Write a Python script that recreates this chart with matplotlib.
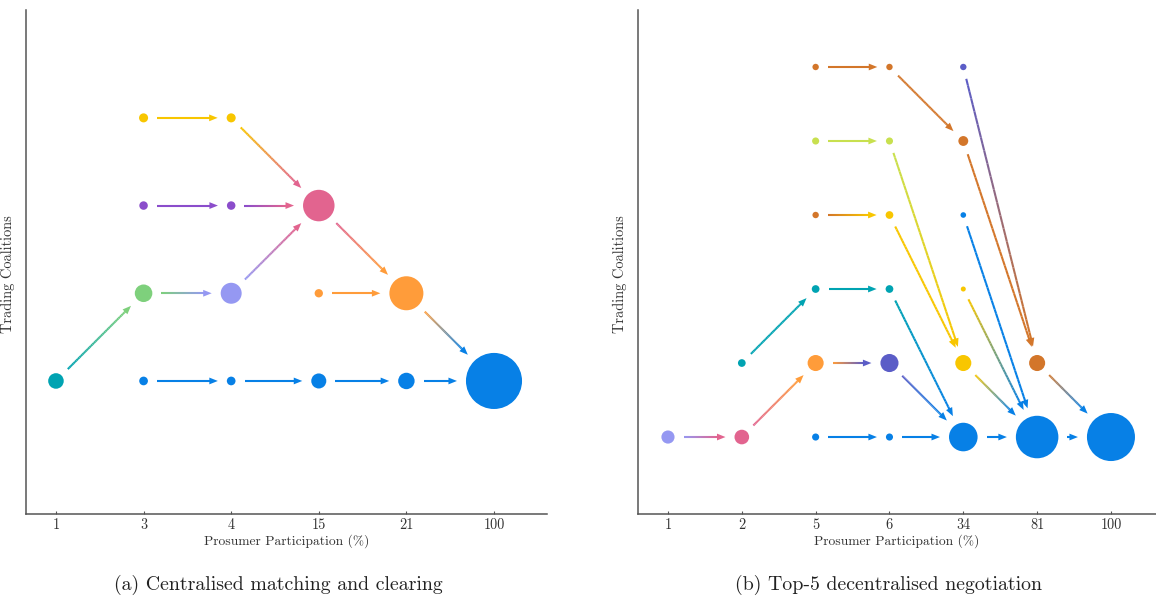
import numpy as np
import matplotlib
matplotlib.use("Agg")
import matplotlib.pyplot as plt
from matplotlib.collections import LineCollection
from matplotlib.patches import Polygon
from matplotlib.colors import to_rgb

plt.rcParams['font.family'] = ['cmr10', 'DejaVu Serif']
plt.rcParams['axes.formatter.use_mathtext'] = True

# ---------------- data: (a) centralised ----------------
a_ticks = ['1', '3', '4', '15', '21', '100']
a_node_x = [0, 1, 1, 1, 1, 2, 2, 2, 2, 3, 3, 3, 4, 4, 5]
a_node_row = [0, 0, 1, 2, 3, 0, 1, 2, 3, 0, 1, 2, 0, 1, 0]
a_node_value = [7.7, 2.4, 9.8, 2.3, 2.6, 2.4, 14, 2.3, 2.6, 7.2, 2.2, 31.6, 8.6, 36.8, 100]
a_node_color = ['teal', 'blue', 'green', 'purple', 'yellow', 'blue', 'lavender', 'purple',
                'yellow', 'blue', 'orange', 'pink', 'blue', 'orange', 'blue']
a_edge_src = [0, 1, 5, 9, 12, 2, 3, 4, 8, 7, 6, 11, 10, 13]
a_edge_dst = [2, 5, 9, 12, 14, 6, 7, 8, 11, 11, 11, 13, 13, 14]

# ---------------- data: (b) top-5 decentralised ----------------
b_ticks = ['1', '2', '5', '6', '34', '81', '100']
b_node_x = [0, 1, 1, 2, 2, 2, 2, 2, 2, 3, 3, 3, 3, 3, 3, 4, 4, 4, 4, 4, 4, 5, 5, 6]
b_node_row = [0, 0, 1, 0, 1, 2, 3, 4, 5, 0, 1, 2, 3, 4, 5, 0, 1, 2, 3, 4, 5, 0, 1, 0]
b_node_value = [5.5, 6.8, 1.9, 1.6, 8.2, 1.9, 1.3, 1.6, 1.3, 1.6, 10.4, 1.9, 1.9, 1.6, 1.3,
                26, 8.2, 0.8, 1.0, 3.1, 1.3, 57.5, 8.2, 73.4]
b_node_color = ['lavender', 'pink', 'teal', 'blue', 'orange', 'teal', 'darkorange', 'lime',
                'darkorange', 'blue', 'indigo', 'teal', 'yellow', 'lime', 'darkorange',
                'blue', 'yellow', 'yellow', 'blue', 'darkorange', 'indigo', 'blue',
                'darkorange', 'blue']
b_edge_src = [0, 1, 2, 3, 4, 5, 6, 7, 8, 9, 10, 11, 12, 13, 14, 15, 16, 17, 18, 19, 20, 21, 22]
b_edge_dst = [1, 4, 5, 9, 10, 11, 12, 13, 14, 15, 15, 15, 16, 16, 19, 21, 21, 21, 21, 22, 22, 23, 23]

palette = {
    'teal': '#00A3B2', 'blue': '#0780E6', 'green': '#7ED07C', 'purple': '#8B4DCB',
    'yellow': '#F8C600', 'lavender': '#9598F2', 'pink': '#E2648F', 'orange': '#FF9C3A',
    'darkorange': '#D3762A', 'lime': '#C8E04F', 'indigo': '#5B5DC7',
}

SIZE_K = 16.3      # points^2 per value unit
GAP = 9.0          # px between node edge and arrow
HEAD_L = 8.5
HEAD_W = 3.4
LW = 1.5

fig = plt.figure(figsize=(11.56, 5.98), dpi=100)
ax_a = fig.add_axes([26 / 1156, 84 / 598, 521 / 1156, 504 / 598])
ax_b = fig.add_axes([638 / 1156, 84 / 598, 518 / 1156, 504 / 598])


def radius_px(v):
    return np.sqrt(SIZE_K * v) * 100 / 72 / 2


def draw_panel(ax, ticks, nx, nr, nv, nc, es, ed, xlim, ylim, caption):
    ax.set_xlim(*xlim)
    ax.set_ylim(*ylim)
    for s in ['top', 'right']:
        ax.spines[s].set_visible(False)
    for s in ['left', 'bottom']:
        ax.spines[s].set_color('#555555')
        ax.spines[s].set_linewidth(1.1)
    ax.set_xticks(range(len(ticks)))
    ax.set_xticklabels(ticks, fontsize=10.3, color='#333333')
    ax.tick_params(axis='x', direction='in', length=2, width=0.8, color='#555555', pad=3)
    ax.set_yticks([])
    ax.set_xlabel('Prosumer Participation (%)', fontsize=9.7, color='#333333', labelpad=2)
    ax.set_ylabel('Trading Coalitions', fontsize=10.3, color='#333333')
    ax.yaxis.set_label_coords(-0.021, 0.476)

    T = ax.transData
    Tinv = T.inverted()
    for s_i, d_i in zip(es, ed):
        a = T.transform((nx[s_i], nr[s_i]))
        b = T.transform((nx[d_i], nr[d_i]))
        d = b - a
        L = np.hypot(*d)
        u = d / L
        perp = np.array([-u[1], u[0]])
        start = a + u * (radius_px(nv[s_i]) + GAP)
        end = b - u * (radius_px(nv[d_i]) + GAP)
        base = end - u * HEAD_L
        c0 = np.array(to_rgb(palette[nc[s_i]]))
        c1 = np.array(to_rgb(palette[nc[d_i]]))
        n = 40
        t = np.linspace(0, 1, n + 1)
        stop = base + u * 1.0
        pts = start[None, :] + (stop - start)[None, :] * t[:, None]
        pts_d = Tinv.transform(pts)
        segs = [[pts_d[i], pts_d[i + 1]] for i in range(n)]
        tm = (t[:-1] + t[1:]) / 2
        cols = [tuple(c0 * (1 - x) + c1 * x) for x in tm]
        ax.add_collection(LineCollection(segs, colors=cols, linewidths=LW,
                                         capstyle='butt', zorder=2))
        head = np.array([end, base + perp * HEAD_W, base - perp * HEAD_W])
        ax.add_patch(Polygon(Tinv.transform(head), closed=True, facecolor=tuple(c1),
                             edgecolor='none', zorder=3))

    ax.scatter(nx, nr, s=[SIZE_K * v for v in nv], c=[palette[c] for c in nc],
               edgecolors='none', zorder=4)
    ax.set_xlim(*xlim)
    ax.set_ylim(*ylim)
    cx = (ax.get_position().x0 + ax.get_position().x1) / 2
    fig.text(cx - 0.007, 8 / 598, caption, ha='center', va='baseline', fontsize=14.3,
             color='#222222')


draw_panel(ax_a, a_ticks, a_node_x, a_node_row, a_node_value, a_node_color,
           a_edge_src, a_edge_dst, (-0.342, 5.605), (-1.517, 4.23),
           '(a) Centralised matching and clearing')
draw_panel(ax_b, b_ticks, b_node_x, b_node_row, b_node_value, b_node_color,
           b_edge_src, b_edge_dst, (-0.406, 6.61), (-1.04, 5.77),
           '(b) Top-5 decentralised negotiation')

fig.savefig('out.png', dpi=100)
